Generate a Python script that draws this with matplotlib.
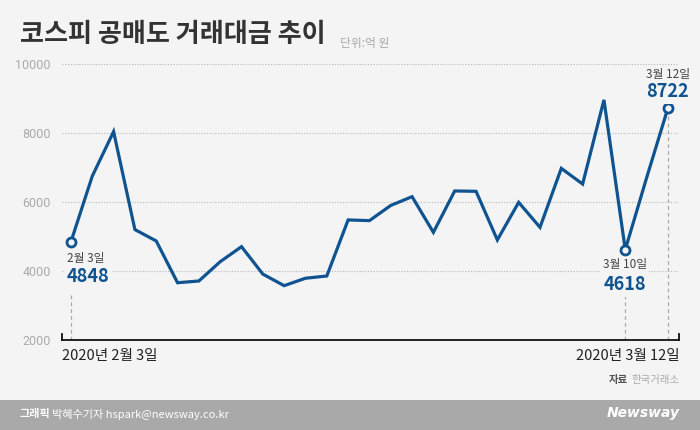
import matplotlib
matplotlib.use("Agg")
import matplotlib.pyplot as plt

plt.rcParams["font.family"] = ["Noto Sans CJK KR", "DejaVu Sans"]

BG = "#f4f4f4"
BLUE = "#0f5491"
W, H = 700, 430

# trading days 2020-02-03 .. 2020-03-12
dates = ["2/3", "2/4", "2/5", "2/6", "2/7", "2/10", "2/11", "2/12", "2/13", "2/14",
         "2/17", "2/18", "2/19", "2/20", "2/21", "2/24", "2/25", "2/26", "2/27", "2/28",
         "3/2", "3/3", "3/4", "3/5", "3/6", "3/9", "3/10", "3/11", "3/12"]
values = [4848, 6750, 8040, 5200, 4870, 3660, 3710, 4270, 4705, 3910,
          3575, 3790, 3855, 5480, 5460, 5900, 6155, 5120, 6320, 6310,
          4900, 5990, 5265, 6975, 6520, 8960, 4618, 6700, 8722]
yticks = [2000, 4000, 6000, 8000, 10000]
marked = {0: "2월 3일", 26: "3월 10일", 28: "3월 12일"}


def fx(px):
    return px / W


def fy(py):
    return 1 - py / H


fig = plt.figure(figsize=(7, 4.3), dpi=100, facecolor=BG)
ax = fig.add_axes([fx(62), fy(340), fx(679) - fx(62), fy(64) - fy(340)])
ax.set_facecolor(BG)

x = list(range(len(values)))
ax.set_xlim(-0.42, len(values) - 1 + 0.52)
ax.set_ylim(yticks[0], yticks[-1])

for t in yticks[1:]:
    ax.axhline(t, color="#b8b8b8", lw=0.8, ls=(0, (1, 1.5)), zorder=1)

ax.plot(x, values, color=BLUE, lw=2.3, solid_joinstyle="miter", zorder=3, clip_on=False)
mi = list(marked)
ax.plot([x[i] for i in mi], [values[i] for i in mi], "o", ms=6.5, mfc=BG,
        mec=BLUE, mew=2, zorder=4, clip_on=False)

for s in ["top", "right", "left"]:
    ax.spines[s].set_visible(False)
ax.spines["bottom"].set_color("#111111")
ax.spines["bottom"].set_linewidth(1.3)
ax.plot([0, 0], [0, 0.022], color="#111111", lw=1.3, transform=ax.transAxes, clip_on=False)
ax.plot([1, 1], [0, 0.022], color="#111111", lw=1.3, transform=ax.transAxes, clip_on=False)

ax.set_xticks([])
ax.set_yticks(yticks)
ax.set_yticklabels([str(t) for t in yticks], color="#aaaaaa", fontsize=9,
                   family=["Roboto", "DejaVu Sans"])
ax.tick_params(axis="y", length=0, pad=8)

box = dict(boxstyle="square,pad=0.15", fc=BG, ec="none")
dash = dict(color="#aaaaaa", lw=0.9, ls=(0, (3, 2.5)), zorder=2)

# first point: labels below, left aligned
i = 0
ax.annotate(marked[i], (x[i], values[i]), xytext=(-3, -12), textcoords="offset points",
            ha="left", va="center", fontsize=8.5, color="#444444", zorder=5)
ax.annotate(str(values[i]), (x[i], values[i]), xytext=(-3, -25), textcoords="offset points",
            ha="left", va="center", fontsize=13, color=BLUE, weight="bold", zorder=5, bbox=box)
ax.plot([x[i], x[i]], [yticks[0], values[i] - 1550], **dash)

# 3/10: labels below, centred
i = 26
ax.annotate(marked[i], (x[i], values[i]), xytext=(0, -11), textcoords="offset points",
            ha="center", va="center", fontsize=8.5, color="#444444", zorder=5, bbox=box)
ax.annotate(str(values[i]), (x[i], values[i]), xytext=(0, -25), textcoords="offset points",
            ha="center", va="center", fontsize=13, color=BLUE, weight="bold", zorder=5, bbox=box)
ax.plot([x[i], x[i]], [yticks[0], values[i] - 1350], **dash)

# 3/12: labels above
i = 28
ax.annotate(marked[i], (x[i], values[i]), xytext=(0, 24), textcoords="offset points",
            ha="center", va="center", fontsize=8.5, color="#444444", zorder=5, bbox=box)
ax.annotate(str(values[i]), (x[i], values[i]), xytext=(0, 12), textcoords="offset points",
            ha="center", va="center", fontsize=13, color=BLUE, weight="bold", zorder=5, bbox=box)
ax.plot([x[i], x[i]], [yticks[0], values[i]], **dash)

# titles
fig.text(fx(20), fy(34), "코스피 공매도 거래대금 추이", fontsize=18.8, weight="black",
         color="#333333", ha="left", va="center")
fig.text(fx(340), fy(43), "단위:억 원", fontsize=8.5, color="#aaaaaa", ha="left", va="center")

# x labels
fig.text(fx(62), fy(356), "2020년 2월 3일", fontsize=10.5, color="#222222", ha="left", va="center")
fig.text(fx(680), fy(356), "2020년 3월 12일", fontsize=10.5, color="#222222", ha="right", va="center")

fig.text(fx(680), fy(380), "한국거래소", fontsize=7.5, color="#aaaaaa", ha="right", va="center")
fig.text(fx(628), fy(380), "자료", fontsize=7.5, color="#555555", weight="bold", ha="right", va="center")

# footer
fig.patches.append(plt.Rectangle((0, 0), 1, fy(400), transform=fig.transFigure,
                                 fc="#a9a9a9", ec="none", zorder=0))
fig.text(fx(20), fy(414), "그래픽", fontsize=8, color="white", weight="bold", ha="left", va="center")
fig.text(fx(52), fy(414), "박혜수기자 hspark@newsway.co.kr", fontsize=8, color="white",
         ha="left", va="center")
fig.text(fx(680), fy(413), "Newsway", fontsize=10, color="white", weight="bold", style="italic",
         ha="right", va="center", family=["DejaVu Sans"])

fig.savefig("out.png", dpi=100, facecolor=BG)
